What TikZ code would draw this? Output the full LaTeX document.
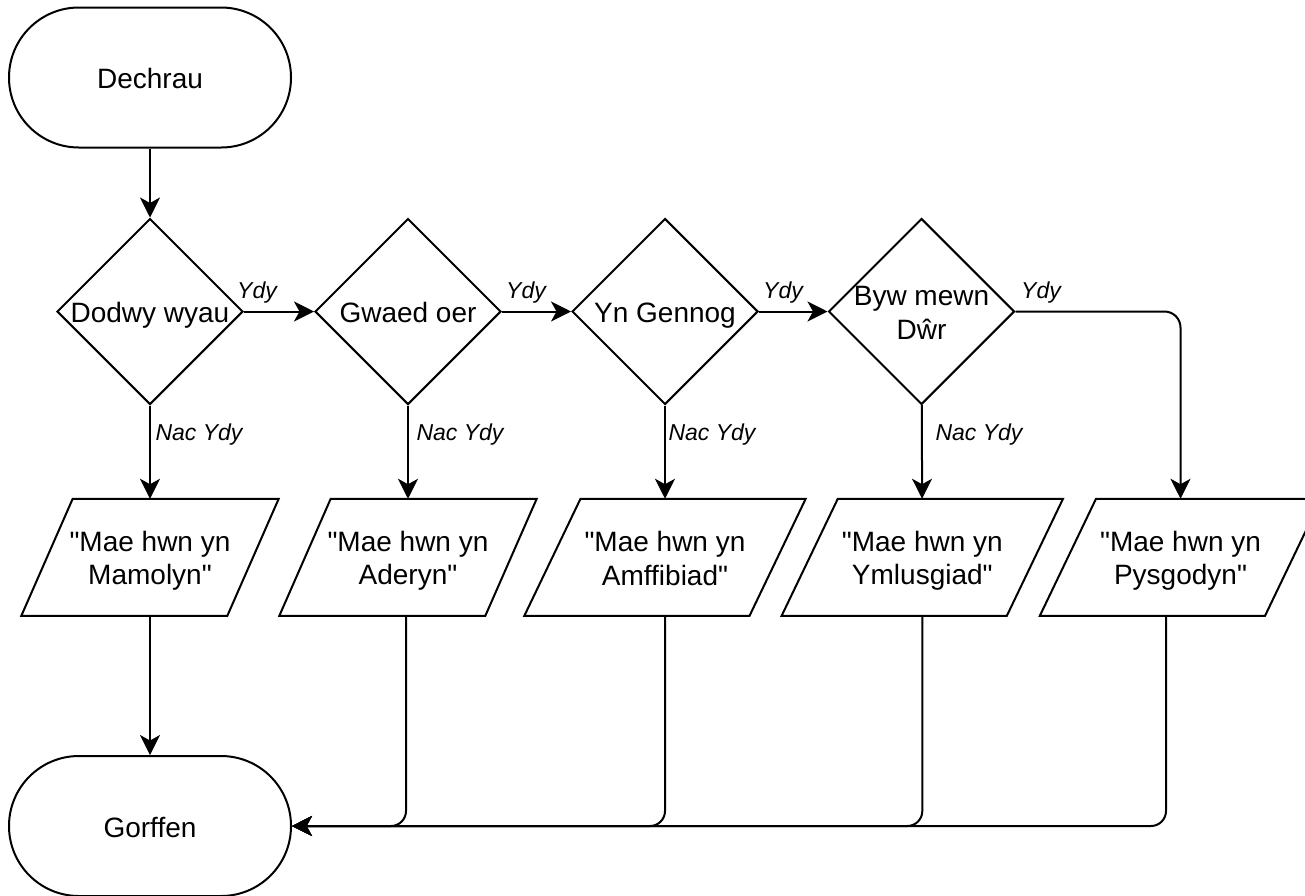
\documentclass[tikz,border=0pt]{standalone}
\usepackage{fontspec}
% plain typewriter-style double quotes, no TeX quote mapping
\setmainfont{Liberation Sans}[Ligatures=TeXOff]
\usetikzlibrary{shapes.geometric,arrows.meta}
% line strut: 27pt above and 5pt below the baseline, one 32pt line box
\newcommand\ls{\rule[-5pt]{0pt}{32pt}}
% straight double quote, placed as a glyph
\newcommand\dq{\XeTeXglyph\XeTeXcharglyph"22\relax}
% output box: name, x, y, width, text; slanted sides drawn around a plain node
\newcommand\iobox[5]{%
  \node[iotext, minimum width=#4] (#1) at (#2,#3) {#5};
  \draw[outline] (#1.south west) -- ([xshift={0.2*#4}]#1.north west)
    -- (#1.north east) -- ([xshift={-0.2*#4}]#1.south east) -- cycle;
}
\begin{document}
\begin{tikzpicture}[x=1pt,y=-1pt,
  outline/.style={line width=2pt, line join=miter},
  base/.style={inner sep=0pt, align=center, font=\fontsize{28pt}{32pt}\selectfont},
  terminal/.style={base, draw, outline, rounded corners=69.9pt,
    minimum width=282pt, minimum height=140pt},
  decision/.style={base, draw, outline, diamond, aspect=1, inner sep=-5pt,
    minimum width=186pt, minimum height=186pt},
  iotext/.style={base, minimum height=116.7pt},
  branch/.style={inner sep=0pt, font=\fontsize{23pt}{27pt}\selectfont\itshape},
  flow/.style={line width=2pt, -{Stealth[length=20pt,width=20pt,inset=5.5pt]}},
  merge/.style={flow, rounded corners=15pt}
]
\useasboundingbox (0,0) rectangle (1305,895);
\fill[white] (0,0) rectangle (1305,895);

% start and end
\node[terminal] (start)  at (150,77.5) {\ls Dechrau};
\node[terminal] (finish) at (150,826)  {\ls Gorffen};

% questions
\node[decision] (d1) at (150,311.5)   {\ls Dodwy wyau};
\node[decision] (d2) at (408,311.5)   {\ls Gwaed oer};
\node[decision] (d3) at (665,311.5)   {\ls Yn Gennog};
\node[decision] (d4) at (921.5,311.5) {\ls Byw mewn\\\ls Dŵr};

% answers
\iobox{p1}{150}{557.3}{257pt}{\ls\dq Mae hwn yn\\\ls Mamolyn\dq}
\iobox{p2}{408}{557.3}{257pt}{\ls\dq Mae hwn yn\\\ls Aderyn\dq}
\iobox{p3}{665}{557.3}{281pt}{\ls\dq Mae hwn yn\\\ls Amffibiad\dq}
\iobox{p4}{922.3}{557.3}{281pt}{\ls\dq Mae hwn yn\\\ls Ymlusgiad\dq}
\iobox{p5}{1180.5}{557.3}{281pt}{\ls\dq Mae hwn yn\\\ls Pysgodyn\dq}

% flow
\draw[flow] (start) -- (d1);
\draw[flow] (d1) -- (d2);
\draw[flow] (d2) -- (d3);
\draw[flow] (d3) -- (d4);
\draw[flow, rounded corners=16pt] (d4) -| (p5);
\draw[flow] (d1) -- (p1);
\draw[flow] (d2) -- (p2);
\draw[flow] (d3) -- (p3);
\draw[flow] (d4) -- (p4);
\draw[flow] (p1) -- (finish);
\draw[merge] ([xshift=-2pt]p2.south) |- (finish);
\draw[merge] (p3.south) |- (finish);
\draw[merge] (p4.south) |- (finish);
\draw[merge] ([xshift=-14.5pt]p5.south) |- (finish);

% branch labels
\node[branch] (y1) at (257,293)  {Ydy};
\node[branch] (y2) at (526,293)  {Ydy};
\node[branch] (y3) at (783,293)  {Ydy};
\node[branch] (y4) at (1041,293) {Ydy};
\node[branch] (n1) at (199,434.4) {Nac Ydy};
\node[branch] (n2) at (460,434.4) {Nac Ydy};
\node[branch] (n3) at (712,434.4) {Nac Ydy};
\node[branch] (n4) at (979,434.4) {Nac Ydy};
\end{tikzpicture}
\end{document}
